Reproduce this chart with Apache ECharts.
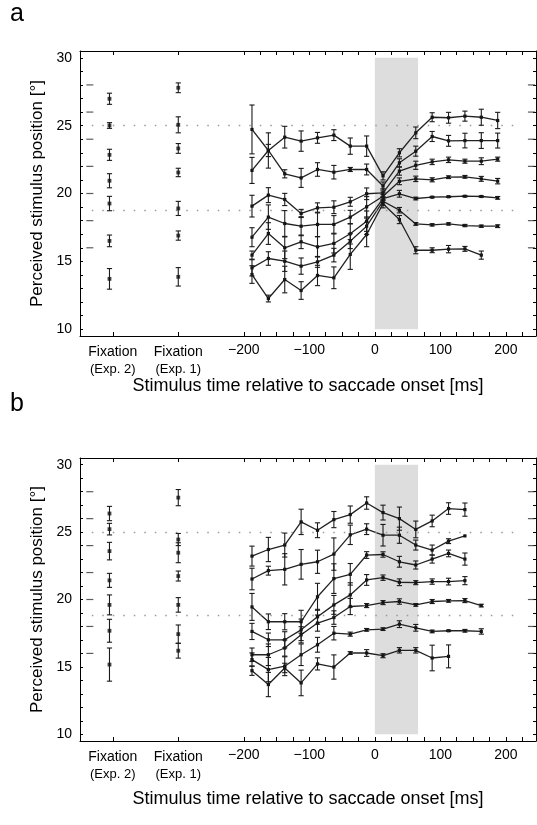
<!DOCTYPE html>
<html><head><meta charset="utf-8">
<script src="https://cdn.jsdelivr.net/npm/echarts@6/dist/echarts.min.js"></script>
<style>html,body{margin:0;padding:0;background:#fff}#c{width:537px;height:825px}</style>
</head><body><div id="c"></div><script>
// ---- data ----
const times = [-187.5,-162.5,-137.5,-112.5,-87.5,-62.5,-37.5,-12.5,12.5,37.5,62.5,87.5,112.5,137.5,162.5,187.5];
const fixX = [-405, -300];
const xTicks = [-400,-300,-200,-175,-150,-125,-100,-75,-50,-25,0,25,50,75,100,125,150,175,200,225];
const xLabelVals = [-400,-300,-200,-100,0,100,200];
const xLabelText = ['{f|Fixation}\n{e|(Exp. 2)}','{f|Fixation}\n{e|(Exp. 1)}','\u2212200','\u2212100','0','100','200'];
const yTicks = [10,11,12,13,14,15,16,17,18,19,20,21,22,23,24,25,26,27,28,29,30];
const yLabelVals = [10,15,20,25,30];
const stimMarks = [16,18,20,22,24,26,28];
const refLevels = [25, 18.8];
const refSpan = [-432, 218];
const saccadeSpan = [0, 66];

// Panel a
const aFix2 = [26.98,25.01,22.85,20.94,19.26,16.51,13.71];
const aFix2Err = [0.41,0.21,0.41,0.52,0.53,0.43,0.76];
const aFix1 = [27.79,25.06,23.32,21.55,18.9,16.9,13.86];
const aFix1Err = [0.36,0.59,0.36,0.31,0.52,0.34,0.68];
const aCurve1 = [21.7,23.17,24.15,23.86,24.1,24.3,23.49,23.49,21.3,23.0,24.47,25.62,25.58,25.7,25.62,25.38];
const aErr1 = [0.96,0.45,0.8,0.75,0.4,0.4,0.6,0.75,0.3,0.3,0.43,0.33,0.4,0.37,0.59,0.6];
const aCurve2 = [24.72,23.17,21.45,21.15,21.77,21.57,21.77,21.77,20.55,22.26,23.12,24.2,23.88,23.9,23.9,23.9];
const aErr2 = [1.8,1.3,0.3,0.7,0.5,0.5,0.15,0.4,0.3,0.3,0.37,0.37,0.4,0.54,0.58,0.55];
const aCurve3 = [19.07,19.88,19.56,18.53,18.94,18.99,19.39,19.98,20.05,21.65,22.08,22.33,22.48,22.38,22.38,22.53];
const aErr3 = [0.8,0.55,0.45,0.3,0.37,0.47,0.33,0.43,0.3,0.3,0.3,0.2,0.2,0.15,0.25,0.15];
const aCurve4 = [16.78,18.26,17.79,17.59,17.72,17.72,18.26,19.02,19.8,20.9,21.08,21.01,21.2,21.23,21.08,20.91];
const aErr4 = [0.7,0.9,0.95,0.7,0.9,0.65,0.5,0.75,0.3,0.25,0.2,0.15,0.1,0.1,0.18,0.2];
const aCurve5 = [15.46,17.05,16.0,16.44,16.07,16.32,17.03,17.96,19.63,19.98,19.63,19.73,19.76,19.8,19.78,19.68];
const aErr5 = [0.3,0.8,0.8,0.5,0.75,0.7,0.75,0.75,0.3,0.25,0.1,0.05,0.05,0.05,0.05,0.1];
const aCurve6 = [14.52,15.21,15.01,14.65,14.96,15.46,16.49,17.59,19.43,18.77,17.76,17.69,17.76,17.64,17.59,17.59];
const aErr6 = [0.6,0.5,0.75,0.6,0.4,0.5,0.55,0.6,0.3,0.2,0.1,0.08,0.08,0.08,0.08,0.1];
const aCurve7 = [14.03,12.26,13.66,12.85,13.96,13.79,15.51,16.98,19.24,18.08,15.82,15.82,15.9,15.92,15.46];
const aErr7 = [0.65,0.25,0.98,0.65,0.75,0.8,1.1,0.9,0.3,0.3,0.26,0.18,0.27,0.18,0.3];

// Panel b
const bFix2 = [26.38,25.22,23.59,21.42,19.6,17.68,15.17];
const bFix2Err = [0.53,0.43,0.65,0.52,0.74,0.85,1.23];
const bFix1 = [27.56,24.45,23.47,21.74,19.6,17.43,16.2];
const bFix1Err = [0.6,0.45,0.74,0.37,0.54,0.68,0.55];
const bCurve1 = [23.22,23.71,24.04,25.76,25.14,25.93,26.3,27.16,26.45,26.0,25.2,25.83,26.75,26.67];
const bErr1 = [0.74,0.9,0.89,0.94,0.55,0.6,0.64,0.46,0.55,0.86,0.62,0.43,0.43,0.49];
const bCurve2 = [21.52,22.14,22.24,22.61,22.8,23.37,24.8,25.22,24.77,24.77,24.04,23.67,24.33,24.72];
const bErr2 = [0.8,0.33,1.16,1.1,0.86,1.2,0.72,0.4,0.8,0.6,0.37,0.37,0.18,0];
const bCurve3 = [19.45,18.35,18.35,18.35,20.2,21.55,21.87,23.3,23.34,22.8,22.56,23.0,23.42,23.0];
const bErr3 = [1.0,0.58,0.6,0.85,1.0,1.1,0.8,0.25,0.2,0.4,0.3,0.3,0.25,0.45];
const bCurve4 = [17.63,17.01,17.01,17.75,18.72,19.6,20.34,21.45,21.62,21.28,21.25,21.33,21.33,21.4];
const bErr4 = [0.6,0.5,0.6,0.8,0.55,0.7,0.9,0.4,0.2,0.25,0.15,0.2,0.25,0.3];
const bCurve5 = [15.9,15.9,16.4,17.38,18.25,18.66,19.48,19.55,19.77,19.85,19.6,19.85,19.9,19.92,19.55];
const bErr5 = [0.5,0.8,0.6,0.6,0.6,0.5,0.6,0.15,0.15,0.2,0.1,0.15,0.1,0.15,0.1];
const bCurve6 = [15.54,14.8,15.05,15.9,16.64,17.5,17.43,17.75,17.8,18.17,17.9,17.63,17.68,17.68,17.63];
const bErr6 = [0.5,0.9,0.7,0.8,0.55,0.5,0.15,0.1,0.1,0.25,0.25,0.1,0.05,0.1,0.2];
const bCurve7 = [14.72,13.69,14.92,13.81,15.22,14.99,16.03,16.03,15.83,16.23,16.23,15.66,15.78];
const bErr7 = [0.35,0.9,0.35,0.95,0.45,0.9,0.1,0.25,0.15,0.2,0.2,0.95,0.85];

const panels = [
  {curves:[aCurve1,aCurve2,aCurve3,aCurve4,aCurve5,aCurve6,aCurve7], errs:[aErr1,aErr2,aErr3,aErr4,aErr5,aErr6,aErr7],
   fix:[[aFix2,aFix2Err],[aFix1,aFix1Err]]},
  {curves:[bCurve1,bCurve2,bCurve3,bCurve4,bCurve5,bCurve6,bCurve7], errs:[bErr1,bErr2,bErr3,bErr4,bErr5,bErr6,bErr7],
   fix:[[bFix2,bFix2Err],[bFix1,bFix1Err]]}
];

// ---- chart ----
const FONT = 'Liberation Sans, Arial, Helvetica, sans-serif';
const INK = '#1a1a1a';
const chart = echarts.init(document.getElementById('c'), null, {renderer:'canvas'});

function errItem(params, api) {
  const x = api.value(0), y = api.value(1), e = api.value(2);
  if (!e) return null;
  const t = api.coord([x, y + e]), b = api.coord([x, y - e]);
  const c = 2.6;
  const st = {stroke: INK, lineWidth: 1.1};
  return {type:'group', children:[
    {type:'line', shape:{x1:t[0], y1:t[1], x2:b[0], y2:b[1]}, style:st},
    {type:'line', shape:{x1:t[0]-c, y1:t[1], x2:t[0]+c, y2:t[1]}, style:st},
    {type:'line', shape:{x1:b[0]-c, y1:b[1], x2:b[0]+c, y2:b[1]}, style:st}
  ]};
}

const grids = [
  {left:80, top:51, width:456, height:285},
  {left:80, top:458, width:456, height:283}
];
const xAxes = [], yAxes = [], series = [];
grids.forEach((g, gi) => {
  const common = {type:'value', gridIndex:gi, min:-450, max:246, splitLine:{show:false},
    axisLine:{show:true, onZero:false, lineStyle:{color:'#000', width:1}}};
  xAxes.push(Object.assign({}, common, {position:'bottom',
    axisTick:{show:true, inside:true, length:4, customValues:xTicks, lineStyle:{color:'#000'}},
    axisLabel:{show:true, customValues:xLabelVals, margin:7, color:'#000', fontFamily:FONT, fontSize:14,
      formatter:(v)=>xLabelText[xLabelVals.indexOf(v)],
      rich:{f:{fontFamily:FONT, fontSize:14, color:'#000', lineHeight:18}, e:{fontFamily:FONT, fontSize:13, color:'#000', lineHeight:17}}},
    name:'Stimulus time relative to saccade onset [ms]', nameLocation:'middle', nameGap: gi ? 49 : 38,
    nameTextStyle:{fontFamily:FONT, fontSize:18, color:'#000'}}));
  xAxes.push(Object.assign({}, common, {position:'top',
    axisTick:{show:true, inside:true, length:4, customValues:xTicks, lineStyle:{color:'#000'}},
    axisLabel:{show:false}}));
  const yc = {type:'value', gridIndex:gi, min:9.5, max:30.5, splitLine:{show:false},
    axisLine:{show:true, onZero:false, lineStyle:{color:'#000', width:1}},
    axisTick:{show:true, inside:true, length:3, customValues:yTicks, lineStyle:{color:'#000'}}};
  yAxes.push(Object.assign({}, yc, {position:'left',
    axisLabel:{show:true, customValues:yLabelVals, margin:8, color:'#000', fontFamily:FONT, fontSize:14},
    name:'Perceived stimulus position [°]', nameLocation:'middle', nameGap:31, nameRotate:90,
    nameTextStyle:{fontFamily:FONT, fontSize:17, color:'#000'}}));
  yAxes.push(Object.assign({}, yc, {position:'right', axisLabel:{show:false}}));

  const xi = gi*2, yi = gi*2;
  series.push({type:'line', xAxisIndex:xi, yAxisIndex:yi, data:[], z:1, silent:true,
    markArea:{silent:true, itemStyle:{color:'#dddddd'},
      data:[[{xAxis:saccadeSpan[0], yAxis:yTicks[0]},{xAxis:saccadeSpan[1], yAxis:yTicks[yTicks.length-1]}]]},
    markLine:{silent:true, symbol:'none', label:{show:false},
      lineStyle:{color:'#9a9a9a', width:1.3, type:[1.5,9]},
      data: refLevels.map(l => [{coord:[refSpan[0], l]},{coord:[refSpan[1], l]}])}
  });
  series.push({type:'scatter', xAxisIndex:xi, yAxisIndex:yi, z:3, silent:true,
    symbol:'rect', symbolSize:[7,1.2], itemStyle:{color:'#333'},
    data: stimMarks.map(v=>[-435, v]).concat(stimMarks.map(v=>[239, v]))});
  const p = panels[gi];
  p.curves.forEach((c, ci) => {
    series.push({type:'line', xAxisIndex:xi, yAxisIndex:yi, z:4, silent:true,
      data: c.map((v,i)=>[times[i], v]),
      lineStyle:{color:'#222', width:1.3}, symbol:'rect', symbolSize:3.2, showSymbol:true,
      itemStyle:{color:'#111'}});
    series.push({type:'custom', xAxisIndex:xi, yAxisIndex:yi, z:5, silent:true, renderItem:errItem,
      data: c.map((v,i)=>[times[i], v, p.errs[ci][i]])});
  });
  p.fix.forEach((f, fi) => {
    series.push({type:'scatter', xAxisIndex:xi, yAxisIndex:yi, z:5, silent:true,
      symbol:'rect', symbolSize:3.8, itemStyle:{color:'#111'},
      data: f[0].map(v=>[fixX[fi], v])});
    series.push({type:'custom', xAxisIndex:xi, yAxisIndex:yi, z:5, silent:true, renderItem:errItem,
      data: f[0].map((v,i)=>[fixX[fi], v, f[1][i]])});
  });
});

chart.setOption({
  animation:false,
  backgroundColor:'#fff',
  grid: grids,
  xAxis: xAxes,
  yAxis: yAxes,
  series: series,
  graphic:[
    {type:'text', left:10, top:2, style:{text:'a', fontFamily:FONT, fontSize:25, fill:'#000'}},
    {type:'text', left:10, top:392, style:{text:'b', fontFamily:FONT, fontSize:25, fill:'#000'}}
  ]
});
</script></body></html>
